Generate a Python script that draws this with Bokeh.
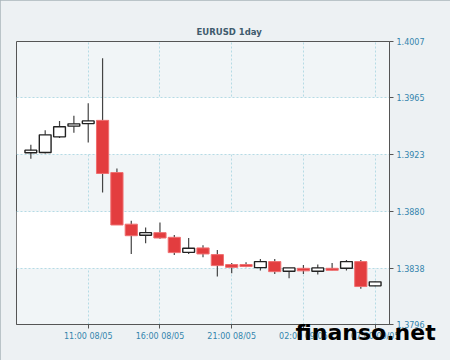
from bokeh.plotting import figure
from bokeh.models import Range1d, FixedTicker, ColumnDataSource, Title
from bokeh.embed import file_html
from bokeh.resources import INLINE

# hours from 08/05 00:00
hours = [7, 8, 9, 10, 11, 12, 13, 14, 15, 16, 17, 18, 19, 20, 21, 22, 23, 24, 25, 26, 27, 28, 29, 30, 31]
opens = [1.39240, 1.39242, 1.39359, 1.39439, 1.39458, 1.39482, 1.39093, 1.38708, 1.38625, 1.38645,
         1.38610, 1.38498, 1.38531, 1.38481, 1.38407, 1.38407, 1.38384, 1.38429, 1.38357, 1.38379,
         1.38357, 1.38379, 1.38379, 1.38429, 1.38248]
highs = [1.39300, 1.39409, 1.39478, 1.39516, 1.39610, 1.39945, 1.39123, 1.38734, 1.38684, 1.38721,
         1.38628, 1.38605, 1.38550, 1.38516, 1.38419, 1.38424, 1.38449, 1.38449, 1.38382, 1.38404,
         1.38407, 1.38419, 1.38441, 1.38441, 1.38280]
lows = [1.39195, 1.39235, 1.39350, 1.39389, 1.39317, 1.38945, 1.38702, 1.38485, 1.38565, 1.38600,
        1.38479, 1.38486, 1.38461, 1.38317, 1.38342, 1.38386, 1.38362, 1.38337, 1.38305, 1.38337,
        1.38332, 1.38364, 1.38362, 1.38226, 1.38246]
closes = [1.39260, 1.39374, 1.39434, 1.39456, 1.39478, 1.39086, 1.38702, 1.38622, 1.38645, 1.38605,
          1.38496, 1.38528, 1.38486, 1.38399, 1.38386, 1.38392, 1.38429, 1.38354, 1.38382, 1.38360,
          1.38382, 1.38364, 1.38429, 1.38243, 1.38278]

y_ticks = [1.3796, 1.3838, 1.3880, 1.3923, 1.3965, 1.4007]
x_ticks = [11, 16, 21, 26, 31]
x_tick_labels = ["11:00 08/05", "16:00 08/05", "21:00 08/05", "02:00 09/05", "07:00 09/05"]

up = dict(x=[], top=[], bottom=[])
dn = dict(x=[], top=[], bottom=[])
for h, o, c in zip(hours, opens, closes):
    d = up if c >= o else dn
    d["x"].append(h)
    d["top"].append(max(o, c))
    d["bottom"].append(min(o, c))

p = figure(width=450, height=360, output_backend="svg", toolbar_location=None,
           x_range=Range1d(6, 32), y_range=Range1d(y_ticks[0], y_ticks[-1]),
           y_axis_location="right",
           min_border_left=16, min_border_right=61, min_border_top=41, min_border_bottom=36)
p.background_fill_color = "#f1f5f7"
p.border_fill_color = "#edf1f3"
p.outline_line_color = "#555555"
p.outline_line_width = 1
p.styles = {"outline": "1px solid #a9b4ba", "outline-offset": "-1px"}

p.title = Title(text="EURUSD 1day", align="left", offset=180,
                text_font="DejaVu Sans", text_font_size="8.5px", text_font_style="bold",
                text_color="#3f5b6d")

tick_color = "#3485ad"
for ax in (p.xaxis[0], p.yaxis[0]):
    ax.axis_line_color = "#555555"
    ax.major_tick_line_color = "#555555"
    ax.minor_tick_line_color = None
    ax.major_tick_in = 0
    ax.major_tick_out = 4
    ax.major_label_text_font = "DejaVu Sans"
    ax.major_label_text_font_size = "8px"
    ax.major_label_text_color = tick_color
    ax.major_label_standoff = 3

p.xaxis[0].ticker = FixedTicker(ticks=x_ticks)
p.xaxis[0].major_label_overrides = {t: l for t, l in zip(x_ticks, x_tick_labels)}
p.yaxis[0].ticker = FixedTicker(ticks=y_ticks)
p.yaxis[0].major_label_overrides = {t: f"{t:.4f}" for t in y_ticks}

grid_color = "#b5dbe5"
p.xgrid.grid_line_color = grid_color
p.xgrid.grid_line_dash = "2 2"
p.ygrid.grid_line_color = grid_color
p.ygrid.grid_line_dash = "2 2"
p.ygrid.band_fill_color = "white"
p.ygrid.band_fill_alpha = 1.0

p.segment(x0=hours, y0=lows, x1=hours, y1=highs, line_color="#444444", line_width=1.2)
p.vbar(x="x", top="top", bottom="bottom", width=0.82, source=ColumnDataSource(up),
       fill_color="white", line_color="#222222", line_width=1.4)
p.vbar(x="x", top="top", bottom="bottom", width=0.85, source=ColumnDataSource(dn),
       fill_color="#e33d3f", line_color="#ef6f70", line_width=1)

wm = Title(text="finanso.net", align="left", vertical_align="top", offset=279, standoff=-47,
           text_font="DejaVu Sans", text_font_size="22px", text_font_style="bold",
           text_color="black")
p.add_layout(wm, "below")

open("out.html", "w").write(file_html(p, INLINE))
